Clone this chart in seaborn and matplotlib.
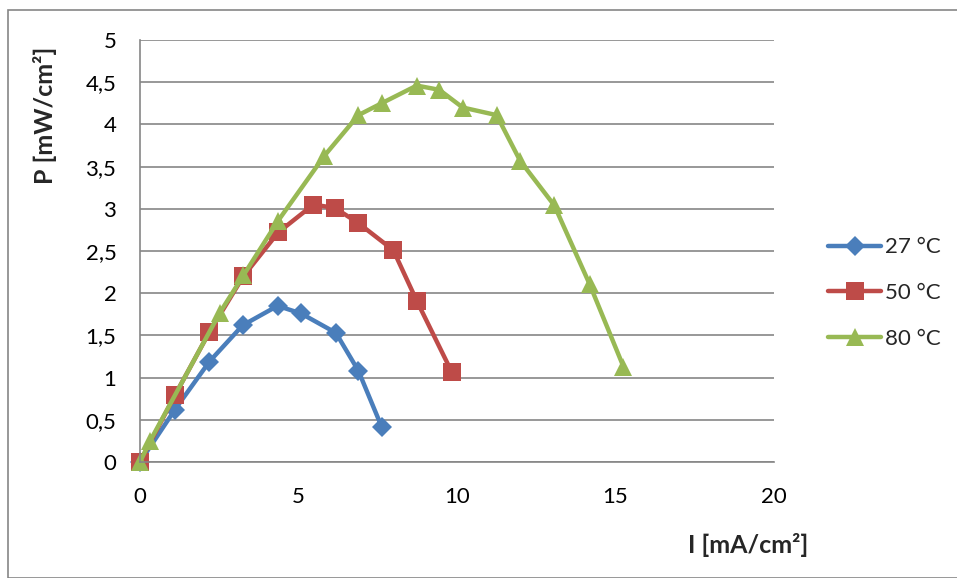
import matplotlib
matplotlib.use("Agg")
import matplotlib.pyplot as plt
import matplotlib.patches as patches
import seaborn as sns
import pandas as pd

# data
i_27 = [0, 1.10, 2.19, 3.24, 4.34, 5.08, 6.18, 6.89, 7.62]
p_27 = [0, 0.62, 1.19, 1.62, 1.85, 1.76, 1.53, 1.08, 0.42]

i_50 = [0, 1.10, 2.19, 3.26, 4.36, 5.47, 6.15, 6.89, 7.99, 8.73, 9.83]
p_50 = [0, 0.79, 1.54, 2.20, 2.72, 3.05, 3.01, 2.83, 2.51, 1.91, 1.07]

i_80 = [0, 0.32, 2.52, 3.26, 4.36, 5.82, 6.89, 7.62, 8.73, 9.44, 10.18, 11.25, 11.99, 13.07, 14.18, 15.25]
p_80 = [0, 0.25, 1.77, 2.21, 2.86, 3.63, 4.11, 4.25, 4.46, 4.41, 4.20, 4.11, 3.57, 3.04, 2.11, 1.13]

series_names = ["27 °C", "50 °C", "80 °C"]
colors = ["#4A7EBB", "#BE4B48", "#98B954"]
markers = ["D", "s", "^"]
msizes = [10, 13, 13]

sns.set_theme(style="white")
plt.rcParams["font.family"] = ["Lato", "DejaVu Sans"]

fig = plt.figure(figsize=(9.57, 5.78), dpi=100)
ax = fig.add_axes([140 / 957, 1 - 462 / 578, 634 / 957, 422 / 578])

frames = [
    pd.DataFrame({"I": i_27, "P": p_27}),
    pd.DataFrame({"I": i_50, "P": p_50}),
    pd.DataFrame({"I": i_80, "P": p_80}),
]
for df, name, c, m, ms in zip(frames, series_names, colors, markers, msizes):
    sns.lineplot(data=df, x="I", y="P", ax=ax, color=c, marker=m, markersize=ms,
                 markeredgecolor=c, markeredgewidth=0, linewidth=3.2, label=name,
                 sort=False, clip_on=False)

ax.set_xlim(0, 20)
ax.set_ylim(0, 5)
ax.set_xticks([0, 5, 10, 15, 20])
ax.set_yticks([0, 0.5, 1, 1.5, 2, 2.5, 3, 3.5, 4, 4.5, 5])
ax.set_yticklabels(["0", "0,5", "1", "1,5", "2", "2,5", "3", "3,5", "4", "4,5", "5"])
ax.tick_params(axis="both", length=0, labelsize=16, colors="black")
ax.tick_params(axis="x", pad=18)
ax.tick_params(axis="y", pad=17)
ax.yaxis.grid(True, color="#868686", linewidth=1.2)
ax.xaxis.grid(False)
ax.set_axisbelow(True)
for s in ["top", "right"]:
    ax.spines[s].set_visible(False)
ax.spines["left"].set_color("#868686")
ax.spines["bottom"].set_color("#868686")
ax.spines["left"].set_linewidth(1.2)
ax.spines["bottom"].set_linewidth(1.2)
ax.set_xlabel("")
ax.set_ylabel("")

fig.text(45 / 957, 1 - 115 / 578, "P [mW/cm²]", rotation=90, ha="center", va="center",
         fontsize=18, fontweight="bold")
fig.text(748 / 957, 1 - 545 / 578, "I [mA/cm²]", ha="center", va="center",
         fontsize=18, fontweight="bold")

handles, labels = ax.get_legend_handles_labels()
ax.legend(handles, labels, loc="center left", bbox_to_anchor=(808 / 957, 1 - 293 / 578),
          bbox_transform=fig.transFigure, frameon=False, fontsize=16,
          handlelength=2.4, handletextpad=0.15, labelspacing=1.15)

fig.patches.append(patches.Rectangle((8 / 957, 0), 1, 1 - 10 / 578, transform=fig.transFigure,
                                     fill=False, edgecolor="#868686", linewidth=1.2))

fig.savefig("out.png", dpi=100)
